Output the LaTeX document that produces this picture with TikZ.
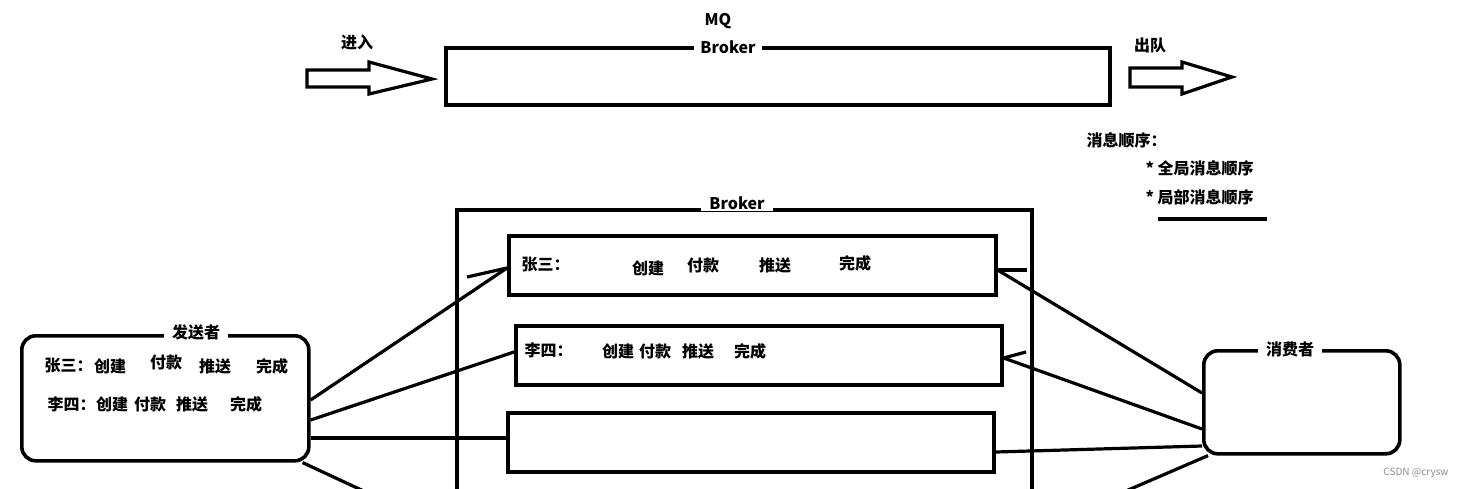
\documentclass[tikz,border=0pt]{standalone}
\usepackage{fontspec}
\setmainfont{Noto Sans CJK SC}
\usetikzlibrary{positioning}

\begin{document}
\begin{tikzpicture}[
    x=1pt, y=-1pt,
    font=\fontsize{16}{19}\selectfont\bfseries,
    box/.style={draw=black, line width=3.6pt, anchor=north west, inner sep=0pt},
    roundbox/.style={box, rounded corners=14pt},
    title/.style={fill=white, inner xsep=8pt, inner ysep=1pt},
    link/.style={draw=black, line width=3.2pt},
    fat/.style={draw=black, line width=3.2pt, line join=miter, fill=white}
]
\useasboundingbox (0,0) rectangle (1462,488);
\clip (0,0) rectangle (1462,488);

% top: MQ broker with in/out arrows
\node[box, line width=3.9pt, minimum width=664pt, minimum height=57pt] (mq) at (444,46) {};
\node[title, inner xsep=6pt] (mqbroker) at (728,47) {Broker};
\node (mqlabel) at (718,21) {MQ};
\node (enter) at (357,42) {进入};
\node (leave) at (1150,45) {出队};
\draw[fat] (307,70) -- (369,70) -- (369,62) -- (432,79) -- (369,94) -- (369,87) -- (307,87) -- cycle;
\draw[fat] (1130,68) -- (1182,68) -- (1182,62) -- (1232,77) -- (1182,94) -- (1182,87) -- (1130,87) -- cycle;

% message order notes
\node[anchor=west] (order) at (1083,140) {消息顺序：};
\node[anchor=west] (global) at (1142,168) {* 全局消息顺序};
\node[anchor=west] (local) at (1142,197) {* 局部消息顺序};
\draw[link] (1158,219) -- (1267,219);

% broker with three queues
\node[box, minimum width=575pt, minimum height=320pt] (broker) at (455,208) {};
\node[title] (brokertitle) at (737,203) {Broker};

\node[box, minimum width=487pt, minimum height=59pt] (qone) at (507,234) {};
\node[box, minimum width=486pt, minimum height=59pt] (qtwo) at (514,324) {};
\node[box, minimum width=486pt, minimum height=59pt] (qthree) at (506,411) {};

\node[anchor=west] (qonename) at (518,265) {张三：};
\foreach \x/\y/\lab [count=\i] in {648/268/创建, 703/265/付款, 775/265/推送, 855/263/完成} {
  \node (qonestep\i) at (\x,\y) {\lab};
}
\node[anchor=west] (qtwoname) at (521,350) {李四：};
\foreach \x/\lab [count=\i] in {618/创建, 655/付款, 698/推送, 750/完成} {
  \node (qtwostep\i) at (\x,351) {\lab};
}

% sender
\node[roundbox, minimum width=287pt, minimum height=125pt] (sender) at (20,334) {};
\node[title] (sendertitle) at (196,332) {发送者};
\node[anchor=west] (sendzhang) at (41,366) {张三：};
\foreach \x/\y/\lab [count=\i] in {110/366/创建, 166/362/付款, 215/366/推送, 272/366/完成} {
  \node (sendzhang\i) at (\x,\y) {\lab};
}
\node[anchor=west] (sendli) at (44,404) {李四：};
\foreach \x/\lab [count=\i] in {112/创建, 150/付款, 192/推送, 246/完成} {
  \node (sendli\i) at (\x,404) {\lab};
}

% consumer
\node[roundbox, minimum width=196pt, minimum height=103pt] (consumer) at (1202,349) {};
\node[title] (consumertitle) at (1290,349) {消费者};

% links
\coordinate (stubone) at (467,277);
\coordinate (stubtwo) at (1027,270);
\coordinate (stubthree) at (1026,352);
\coordinate (sendout) at (383,500);
\coordinate (consumerout) at (1105,500);

\draw[link] (sender.east |- 0,400) -- (qone.west |- 0,268);
\draw[link] (stubone) -- (qone.west |- 0,268);
\draw[link] (sender.east |- 0,420) -- (qtwo.west |- 0,352);
\draw[link] (sender.east |- 0,438) -- (qthree.west |- 0,438);
\draw[link] ([xshift=-8pt]sender.south east) -- (sendout);

\draw[link] (qone.east |- 0,270) -- (consumer.west |- 0,393);
\draw[link] (qone.east |- 0,270) -- (stubtwo);
\draw[link] (qtwo.east |- 0,358) -- (consumer.west |- 0,429);
\draw[link] (qtwo.east |- 0,358) -- (stubthree);
\draw[link] (qthree.east |- 0,452) -- (consumer.west |- 0,446);
\draw[link] ([xshift=6pt]consumer.south west) -- (consumerout);

\node[anchor=east, text=black!45, font=\fontsize{10}{12}\selectfont] (mark) at (1452,473) {CSDN @crysw};
\end{tikzpicture}
\end{document}
